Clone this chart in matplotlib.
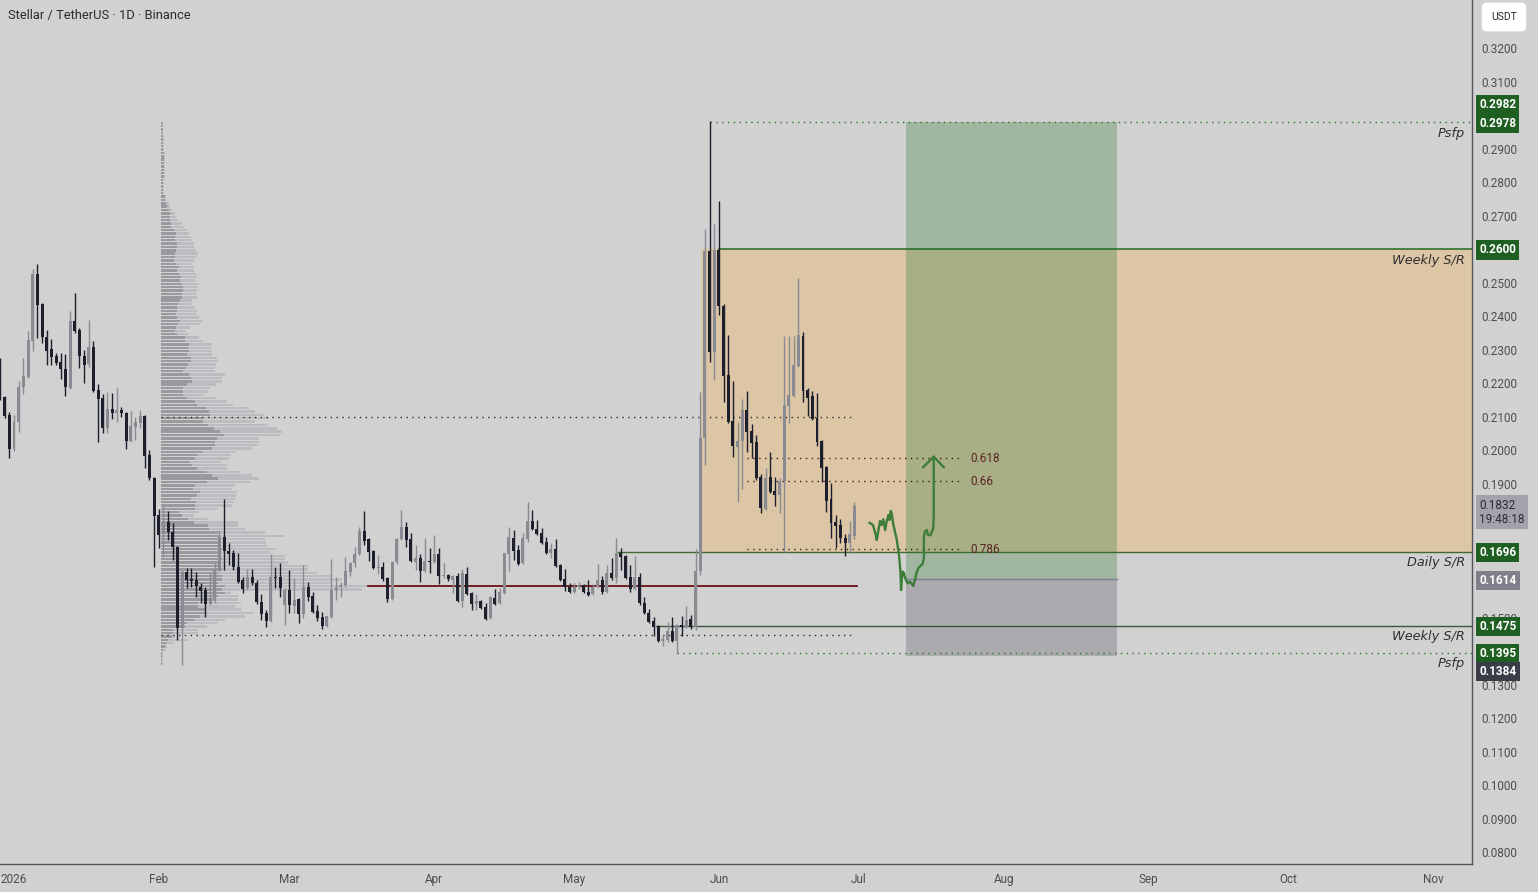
import matplotlib
matplotlib.use('Agg')
import matplotlib.pyplot as plt
import matplotlib.transforms as mtransforms
from matplotlib.patches import Rectangle
from matplotlib.ticker import FixedLocator, FuncFormatter
import numpy as np
import pandas as pd

plt.rcParams['font.family'] = ['Roboto', 'DejaVu Sans']

TITLE = 'Stellar / TetherUS · 1D · Binance'
FIRST_CANDLE = '2025-12-29'
ORIGIN = pd.Timestamp('2026-01-01')

# ---------------- daily OHLC (Dec 29 2025 -> Jun 30 2026) ----------------
opens = [
    .2200, .2158, .2104, .2003, .2084, .2188, .2218, .2325, .2525, .2436,
    .2337, .2301, .2281, .2263, .2242, .2185, .2385, .2358, .2281, .2257,
    .2307, .2179, .2155, .2066, .2122, .2110, .2119, .2110, .2027, .2069,
    .2081, .2101, .1985, .1916, .1806, .1752, .1785, .1755, .1710, .1469,
    .1636, .1615, .1612, .1591, .1582, .1540, .1558, .1642, .1740, .1699,
    .1693, .1651, .1612, .1588, .1621, .1603, .1546, .1513, .1490, .1621,
    .1621, .1537, .1582, .1534, .1555, .1510, .1591, .1564, .1519, .1502,
    .1475, .1502, .1582, .1591, .1597, .1636, .1663, .1690, .1758, .1734,
    .1699, .1648, .1651, .1618, .1555, .1666, .1734, .1770, .1734, .1666,
    .1678, .1639, .1669, .1666, .1690, .1624, .1627, .1612, .1624, .1549,
    .1630, .1573, .1540, .1549, .1531, .1499, .1558, .1543, .1573, .1690,
    .1737, .1701, .1663, .1734, .1788, .1764, .1752, .1725, .1693, .1704,
    .1657, .1615, .1591, .1576, .1591, .1597, .1576, .1570, .1591, .1612,
    .1576, .1633, .1618, .1693, .1684, .1621, .1585, .1621, .1543, .1513,
    .1490, .1472, .1430, .1433, .1460, .1430, .1478, .1472, .1496, .1472,
    .1639, .2036, .2594, .2293, .2597, .2430, .2224, .2087, .2009, .2027,
    .2119, .2057, .2024, .1919, .1824, .1919, .1878, .1866, .1907, .2131,
    .2161, .2251, .2340, .2179, .2161, .2096, .2027, .1949, .1854, .1785,
    .1776, .1737, .1722, .1743,
]
highs = [
    .2275, .2161, .2113, .2104, .2206, .2275, .2355, .2540, .2555, .2438,
    .2358, .2331, .2290, .2290, .2287, .2415, .2469, .2364, .2299, .2388,
    .2325, .2197, .2167, .2173, .2170, .2185, .2128, .2113, .2116, .2099,
    .2119, .2104, .2000, .1919, .1824, .1833, .1818, .1782, .1713, .1642,
    .1648, .1648, .1636, .1603, .1591, .1633, .1663, .1761, .1854, .1722,
    .1701, .1693, .1621, .1645, .1645, .1612, .1570, .1522, .1690, .1651,
    .1663, .1588, .1642, .1618, .1557, .1657, .1606, .1576, .1537, .1516,
    .1505, .1675, .1621, .1606, .1681, .1666, .1710, .1770, .1818, .1737,
    .1702, .1687, .1666, .1621, .1669, .1737, .1821, .1785, .1752, .1716,
    .1690, .1737, .1707, .1746, .1707, .1663, .1630, .1627, .1633, .1645,
    .1651, .1576, .1570, .1552, .1543, .1564, .1585, .1588, .1693, .1770,
    .1761, .1716, .1752, .1845, .1821, .1791, .1767, .1740, .1722, .1734,
    .1660, .1645, .1603, .1603, .1606, .1600, .1612, .1600, .1660, .1624,
    .1657, .1678, .1737, .1707, .1687, .1657, .1684, .1633, .1561, .1525,
    .1502, .1478, .1448, .1487, .1502, .1481, .1504, .1534, .1507, .1704,
    .2173, .2660, .2982, .2675, .2743, .2436, .2343, .2206, .2084, .2152,
    .2176, .2078, .2045, .1928, .1946, .1994, .1919, .1916, .2340, .2340,
    .2340, .2513, .2352, .2185, .2176, .2170, .2030, .1952, .1901, .1806,
    .1794, .1749, .1788, .1845,
]
lows = [
    .2149, .2096, .1976, .1997, .2054, .2167, .2215, .2296, .2334, .2319,
    .2254, .2254, .2254, .2212, .2161, .2182, .2349, .2245, .2200, .2248,
    .2173, .2024, .2051, .2051, .2093, .2084, .2099, .2003, .2024, .2030,
    .2066, .1946, .1910, .1651, .1707, .1681, .1731, .1672, .1433, .1358,
    .1588, .1591, .1561, .1543, .1502, .1537, .1543, .1639, .1642, .1657,
    .1642, .1603, .1573, .1582, .1597, .1540, .1493, .1472, .1487, .1588,
    .1561, .1478, .1513, .1513, .1484, .1499, .1549, .1513, .1490, .1466,
    .1472, .1499, .1552, .1561, .1591, .1624, .1651, .1687, .1716, .1669,
    .1645, .1630, .1609, .1546, .1552, .1660, .1731, .1710, .1666, .1642,
    .1606, .1636, .1633, .1663, .1600, .1618, .1609, .1573, .1546, .1531,
    .1567, .1522, .1522, .1525, .1493, .1496, .1537, .1540, .1570, .1639,
    .1672, .1657, .1660, .1725, .1761, .1746, .1719, .1690, .1678, .1651,
    .1609, .1579, .1573, .1573, .1585, .1573, .1564, .1567, .1588, .1570,
    .1573, .1612, .1603, .1642, .1615, .1576, .1582, .1537, .1510, .1484,
    .1445, .1427, .1415, .1427, .1427, .1395, .1445, .1469, .1466, .1463,
    .1627, .1955, .2263, .2209, .2403, .2143, .2081, .1979, .1845, .1884,
    .1994, .1976, .1910, .1812, .1821, .1872, .1833, .1812, .1696, .2081,
    .2158, .2248, .2143, .2101, .2090, .2012, .1904, .1815, .1737, .1707,
    .1722, .1684, .1693, .1734,
]
closes = [
    .2155, .2101, .2003, .2084, .2188, .2221, .2328, .2525, .2433, .2337,
    .2296, .2278, .2260, .2242, .2188, .2385, .2355, .2281, .2254, .2307,
    .2176, .2152, .2066, .2122, .2110, .2119, .2110, .2027, .2072, .2084,
    .2101, .1982, .1916, .1803, .1746, .1785, .1755, .1710, .1469, .1636,
    .1612, .1609, .1594, .1579, .1540, .1558, .1642, .1740, .1699, .1690,
    .1651, .1606, .1585, .1621, .1603, .1546, .1510, .1490, .1621, .1618,
    .1588, .1582, .1537, .1552, .1510, .1591, .1561, .1516, .1499, .1475,
    .1505, .1582, .1591, .1597, .1639, .1663, .1690, .1758, .1728, .1696,
    .1648, .1651, .1615, .1555, .1666, .1734, .1770, .1731, .1669, .1678,
    .1639, .1669, .1666, .1690, .1624, .1627, .1615, .1624, .1549, .1633,
    .1570, .1540, .1549, .1528, .1496, .1561, .1540, .1576, .1693, .1740,
    .1699, .1660, .1737, .1788, .1764, .1749, .1722, .1693, .1704, .1654,
    .1612, .1591, .1576, .1591, .1597, .1576, .1567, .1591, .1612, .1576,
    .1633, .1618, .1693, .1681, .1618, .1585, .1621, .1543, .1513, .1487,
    .1472, .1430, .1436, .1460, .1430, .1478, .1472, .1493, .1472, .1639,
    .2036, .2594, .2293, .2597, .2430, .2221, .2084, .2012, .2027, .2119,
    .2054, .2021, .1916, .1827, .1916, .1875, .1866, .1907, .2134, .2164,
    .2254, .2343, .2176, .2155, .2093, .2024, .1946, .1848, .1782, .1773,
    .1737, .1722, .1749, .1832,
]

# ---------------- visible-range volume profile (top -> bottom rows) ----------------
vp_price_top = 0.2982
vp_price_bottom = 0.1358
vp_up = [
    2, 2, 2, 2, 2, 2, 2, 2, 2, 3, 3, 3, 3, 3, 3, 3, 3, 2, 2, 2,
    2, 2, 4, 4, 5, 6, 8, 9, 9, 9, 10, 10, 13, 15, 14, 14, 16, 16, 15, 14,
    14, 13, 15, 18, 16, 18, 20, 19, 21, 22, 22, 21, 21, 19, 17, 16, 16, 15, 16, 19,
    17, 15, 14, 16, 24, 24, 28, 27, 28, 26, 30, 30, 27, 25, 22, 28, 30, 31, 26, 22,
    22, 22, 26, 34, 36, 45, 48, 49, 42, 42, 47, 53, 59, 63, 56, 54, 54, 51, 41, 37,
    34, 29, 31, 36, 46, 51, 57, 46, 34, 32, 39, 36, 30, 35, 34, 34, 18, 21, 27, 33,
    47, 48, 57, 59, 57, 57, 57, 61, 59, 57, 61, 57, 57, 61, 57, 61, 61, 57, 64, 61,
    64, 57, 54, 37, 37, 44, 44, 39, 34, 26, 24, 12, 12, 11, 7, 6, 4, 2, 1, 1,
    1, 1,
]
vp_total = [
    2, 2, 2, 2, 3, 3, 3, 3, 3, 4, 4, 4, 4, 4, 4, 4, 4, 3, 3, 3,
    3, 3, 5, 5, 8, 9, 11, 14, 15, 17, 21, 23, 26, 28, 30, 31, 33, 33, 35, 37,
    35, 33, 30, 33, 33, 35, 36, 34, 38, 37, 36, 35, 36, 31, 31, 34, 36, 35, 38, 42,
    39, 29, 25, 27, 38, 42, 51, 50, 51, 51, 56, 57, 55, 54, 54, 64, 61, 61, 55, 49,
    47, 43, 55, 65, 72, 88, 94, 103, 108, 94, 107, 116, 121, 119, 98, 98, 97, 91, 75, 70,
    68, 60, 66, 66, 79, 91, 98, 89, 74, 71, 76, 75, 75, 72, 71, 57, 38, 33, 47, 77,
    77, 84, 104, 123, 104, 105, 106, 115, 109, 124, 124, 127, 147, 147, 156, 171, 181, 171, 207, 201,
    70, 77, 77, 80, 74, 80, 92, 84, 64, 56, 46, 37, 37, 14, 27, 13, 6, 5, 2, 2,
    2, 2,
]
vp_value_area = (0.2099, 0.1448)

# ---------------- drawn levels / tools ----------------
weekly_res = 0.2600
daily_sr = 0.1696
weekly_sup = 0.1475
psfp_high = 0.2978
psfp_low = 0.1395
fib_ratios = ['0.618', '0.66', '0.786']
fib_prices = [0.1976, 0.1907, 0.1704]
long_entry, long_target, long_stop = 0.1614, 0.2978, 0.1384
last_price = 0.1832
countdown = '19:48:18'

path_days = [183.2, 184.0, 184.6, 184.8, 185.1, 185.5, 185.8, 186.2, 186.6, 186.9,
             187.3, 187.5, 187.8, 188.0, 188.3, 189.1, 189.6, 189.9, 190.0, 190.3,
             190.6, 190.8, 191.2, 191.5, 191.9, 192.3, 192.6, 193.0, 193.3, 193.7,
             194.0, 194.6, 194.9, 194.9, 195.1, 195.5, 195.8, 196.3, 196.9, 197.0, 197.0]
path_prices = [.1783, .1776, .1746, .1731, .1756, .1788, .1776, .1793, .1761, .1786,
               .1806, .1791, .1818, .1811, .1781, .1731, .1681, .1632, .1582, .1637,
               .1634, .1622, .1607, .1602, .1607, .1600, .1594, .1612, .1632, .1647,
               .1652, .1660, .1677, .1741, .1756, .1761, .1746, .1746, .1766, .1801, .1980]
arrow_days = [194.7, 197.0, 199.2]
arrow_prices = [.1948, .1980, .1948]

month_ticks = ['2026-01-01', '2026-02-01', '2026-03-01', '2026-04-01', '2026-05-01', '2026-06-01',
               '2026-07-01', '2026-08-01', '2026-09-01', '2026-10-01', '2026-11-01']
month_labels = ['2026', 'Feb', 'Mar', 'Apr', 'May', 'Jun', 'Jul', 'Aug', 'Sep', 'Oct', 'Nov']
price_ticks = [0.32, 0.31, 0.29, 0.28, 0.27, 0.25, 0.24, 0.23, 0.22, 0.21, 0.20, 0.19,
               0.16, 0.15, 0.13, 0.12, 0.11, 0.10, 0.09, 0.08]

# ---------------- styling ----------------
BG = '#d1d1d1'
BULL = '#8a8a92'
BEAR = '#1d202c'
GREEN = '#1f5f21'
TXT = '#4d4d4d'


def day(s):
    return (pd.Timestamp(s) - ORIGIN).days


W, H = 1538, 892
fig = plt.figure(figsize=(W / 100, H / 100), dpi=100, facecolor=BG)
ax = fig.add_axes([0, 28 / H, 1472 / W, 864 / H])
ax.set_facecolor(BG)
ax.set_xlim(-3.0, 312.3)
ax.set_ylim(0.07642, 0.33433)
xmax = 312.3

o = np.array(opens); h = np.array(highs); l = np.array(lows); c = np.array(closes)
dates = pd.date_range(FIRST_CANDLE, periods=len(o), freq='D')
x = np.array((dates - ORIGIN).days, dtype=float)

# orange S/R zone
ax.add_patch(Rectangle((147.1, daily_sr), xmax - 147.1, weekly_res - daily_sr,
                       facecolor='#dcc6a6', edgecolor='none', zorder=0.5))

# volume profile
n = len(vp_up)
bin_h = (vp_price_top - vp_price_bottom) / n
centers = vp_price_top - (np.arange(n) + 0.5) * bin_h
vp_start = 31.5
scale = 44.3 / max(vp_total)
ax.barh(centers, np.array(vp_total) * scale, left=vp_start, height=bin_h * 0.72,
        color='#bcbcc0', edgecolor='none', zorder=1.0)
ax.barh(centers, np.array(vp_up) * scale, left=vp_start, height=bin_h * 0.72,
        color='#9a9a9e', edgecolor='none', zorder=1.1)
poc_i = int(np.argmax(vp_total))
poc_price = centers[poc_i]
poc_end = vp_start + vp_total[poc_i] * scale
ax.plot([poc_end, 180.5], [poc_price, poc_price], color='#6e1010', lw=1.3, zorder=2.6)
for v in vp_value_area:
    ax.plot([vp_start, 180.1], [v, v], color='#2a2a2a', lw=1.0, ls=(0, (1, 3.2)), zorder=2.6)

# long position tool
ls_, le_ = day('2026-07-11'), 236.2
ax.add_patch(Rectangle((ls_, long_entry), le_ - ls_, long_target - long_entry,
                       facecolor=(0.29, 0.52, 0.29), alpha=0.35, edgecolor='none', zorder=1.5))
ax.add_patch(Rectangle((ls_, long_stop), le_ - ls_, long_entry - long_stop,
                       facecolor=(0.36, 0.36, 0.42), alpha=0.33, edgecolor='none', zorder=1.5))
ax.plot([ls_, le_], [long_entry, long_entry], color='#7d7d95', lw=1.0, zorder=1.6)

# horizontal levels
ax.plot([day('2026-06-01'), xmax], [weekly_res] * 2, color='#1f6b20', lw=1.1, zorder=2.5)
ax.plot([129.4, xmax], [daily_sr] * 2, color='#3b6b30', lw=1.0, zorder=2.5)
ax.plot([137.6, xmax], [weekly_sup] * 2, color='#3d573d', lw=1.0, zorder=2.5)
ax.plot([149.0, xmax], [psfp_high] * 2, color='#1f7a1f', lw=1.0, ls=(0, (1, 3.2)), zorder=2.5)
ax.plot([142.0, xmax], [psfp_low] * 2, color='#1f7a1f', lw=1.0, ls=(0, (1, 3.2)), zorder=2.5)

# fib levels
for r, p in zip(fib_ratios, fib_prices):
    ax.plot([157.0, 202.6], [p, p], color='#3e1c1c', lw=1.0, ls=(0, (1, 3.2)), zorder=2.5)
    ax.text(204.8, p, r, color='#5a2424', fontsize=8.5, va='center', ha='left', zorder=5)

# candles
up = c >= o
cols = np.where(up, BULL, BEAR)
ax.vlines(x, l, h, colors=cols, lw=1.0, zorder=3)
ax.bar(x, np.maximum(np.abs(c - o), 0.0004), bottom=np.minimum(o, c), width=0.64,
       color=cols, edgecolor='none', zorder=3.1)

# hand-drawn projection
ax.plot(path_days, path_prices, color='#3c7d38', lw=1.7, zorder=4, solid_capstyle='round',
        solid_joinstyle='round')
ax.plot(arrow_days, arrow_prices, color='#3c7d38', lw=1.7, zorder=4, solid_capstyle='round')

# level text labels
trans_lbl = mtransforms.blended_transform_factory(ax.transAxes, ax.transData)
for txt, p in [('Psfp', psfp_high), ('Weekly S/R', weekly_res), ('Daily S/R', daily_sr),
               ('Weekly S/R', weekly_sup), ('Psfp', psfp_low)]:
    ax.annotate(txt, xy=(1465 / 1472, p), xycoords=trans_lbl, xytext=(0, -8),
                textcoords='offset points', ha='right', va='center', fontsize=9.3,
                style='italic', color='#2f2f2f', family=['DejaVu Sans'], zorder=5)

# axes formatting
for s in ['top', 'left']:
    ax.spines[s].set_visible(False)
for s in ['right', 'bottom']:
    ax.spines[s].set_color('#55555e')
    ax.spines[s].set_linewidth(1.0)
ax.yaxis.tick_right()
ax.yaxis.set_major_locator(FixedLocator(price_ticks))
ax.yaxis.set_major_formatter(FuncFormatter(lambda v, _: f'{v:.4f}'))
ax.tick_params(axis='y', length=0, pad=6.5, labelsize=8.5, labelcolor=TXT)
ax.set_xticks([day(m) for m in month_ticks])
ax.set_xticklabels(month_labels)
ax.tick_params(axis='x', length=0, pad=6.5, labelsize=8.5, labelcolor=TXT)

# price-scale labels
def price_label(p, text, fc, tc='white', dy=-0.7, weight='bold'):
    ax.annotate(text, xy=(1.0, p), xycoords=trans_lbl, xytext=(5.2, dy),
                textcoords='offset points', ha='left', va='center', fontsize=8.5,
                color=tc, fontweight=weight, zorder=10, annotation_clip=False,
                bbox=dict(boxstyle='square,pad=0.26', fc=fc, ec='none'))

price_label(0.2982, '0.2982', GREEN, dy=11.7)
price_label(0.2978, '0.2978', GREEN)
price_label(weekly_res, f'{weekly_res:.4f}', GREEN)
price_label(daily_sr, f'{daily_sr:.4f}', GREEN)
price_label(long_entry, f'{long_entry:.4f}', '#80808a')
price_label(weekly_sup, f'{weekly_sup:.4f}', GREEN)
price_label(psfp_low, f'{psfp_low:.4f}', GREEN)
price_label(long_stop, f'{long_stop:.4f}', '#3a3d48', dy=-11.2)
ax.annotate(f'{last_price:.4f}\n{countdown}', xy=(1.0, last_price), xycoords=trans_lbl,
            xytext=(5.2, 5.4), textcoords='offset points', ha='left', va='top', fontsize=8.5,
            color='#2a2c36', zorder=10, annotation_clip=False, linespacing=1.1,
            bbox=dict(boxstyle='square,pad=0.3', fc='#a2a2aa', ec='none'))

# title and currency box
fig.text(8 / W, 1 - 16 / H, TITLE, fontsize=9.3, color='#2b2b2b', ha='left', va='center')
fig.text(1504 / W, 1 - 17 / H, 'USDT', fontsize=7.5, color='#2b2b2b', ha='center', va='center',
         bbox=dict(boxstyle='round,pad=0.9,rounding_size=0.5', fc='white', ec='none'))

fig.savefig('out.png', dpi=100, facecolor=BG)
